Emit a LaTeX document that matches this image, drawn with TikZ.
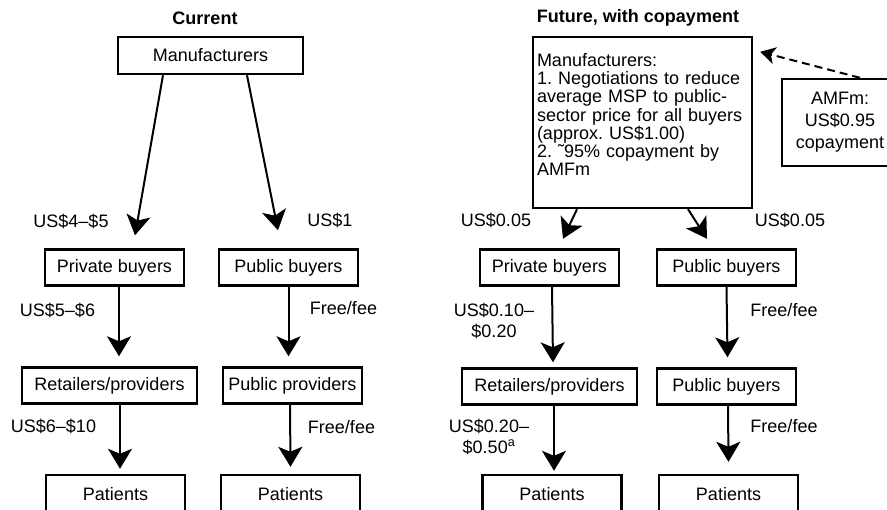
\documentclass[tikz,border=0pt]{standalone}
\usepackage{fontspec}
\setmainfont{Liberation Sans}
\usetikzlibrary{arrows.meta,positioning}
\frenchspacing

\begin{document}
\begin{tikzpicture}[%
    x=1pt, y=-1pt,            % pixel-like units, top-down
    >={Stealth[length=20pt,width=24pt,inset=5pt]},
    node distance=10pt and 10pt,
    font=\fontsize{18}{21}\selectfont,
    ]
% -------------------------------------------------
% Box and line styles
\tikzset{
  base/.style={draw, line width=2.4pt, on grid, align=center, inner sep=3pt},
  box/.style={base, rectangle, minimum width=139pt, minimum height=36pt},
  widebox/.style={box, minimum width=175pt},
  patbox/.style={box, minimum height=38pt},
  norm/.style={->, draw, black, line width=2pt},
  copay/.style={draw, black, line width=2pt, dash pattern=on 8pt off 5pt,
    -{Stealth[length=15pt,width=17pt,inset=4pt]}},
  txt/.style={draw=none, fill=none, align=center, inner sep=0pt},
  ttl/.style={txt, font=\fontsize{18}{21}\selectfont\bfseries}
  }
\useasboundingbox (0,0) rectangle (887,510);
% -------------------------------------------------
% Current
\node [ttl] (cur) at (205,18) {Current};
\node [box, minimum width=185pt, minimum height=37pt] (mL) at (210.5,55.5) {Manufacturers};
\node [box, below left=212pt and 96pt of mL] (privL) {Private buyers};
\node [box, right=174pt of privL] (pubL) {Public buyers};
\node [widebox, below left=118pt and 5pt of privL] (retL) {Retailers/providers};
\node [box, right=183pt of retL] (pprovL) {Public providers};
\node [patbox, below right=108.5pt and 6pt of retL] (patL1) {Patients};
\node [patbox, right=175pt of patL1] (patL2) {Patients};

\draw [norm] ([xshift=-47.5pt]mL.south) -- ([xshift=20.5pt,yshift=13pt]privL.north);
\draw [norm] ([xshift=36.5pt]mL.south) -- ([xshift=-10.5pt,yshift=18pt]pubL.north);
\draw [norm] ([xshift=4.5pt]privL.south) -- ([xshift=9.5pt,yshift=10pt]retL.north);
\draw [norm] (pubL.south) -- ([xshift=-4pt,yshift=10pt]pprovL.north);
\draw [norm] ([xshift=10.5pt]retL.south) -- ([xshift=4.5pt,yshift=5pt]patL1.north);
\draw [norm] ([xshift=-2.5pt]pprovL.south) -- ([yshift=7pt]patL2.north);

\node [txt] (pL1) at (71,221) {US\$4--\$5};
\node [txt] (pL2) at (330,220) {US\$1};
\node [txt] (pL3) at (57.5,310) {US\$5--\$6};
\node [txt] (fL1) at (343.5,308) {Free/fee};
\node [txt] (pL4) at (53.5,426) {US\$6--\$10};
\node [txt] (fL2) at (341.5,427) {Free/fee};
% -------------------------------------------------
% Future, with copayment
\node [ttl] (fut) at (638,18) {Future, with copayment};
\node [base, rectangle, text width=211pt, align=left, inner xsep=4pt,
  minimum height=171pt, font=\fontsize{18}{18.3}\selectfont] (mR) at (642.5,122.5)
  {Manufacturers:\\1. Negotiations to reduce\\average MSP to public-\\sector price for all buyers\\(approx. US\$1.00)\\2. \symbol{"02DC}95\% copayment by\\AMFm\rule[-16pt]{0pt}{16pt}};
\node [box, minimum width=116pt, minimum height=87pt, right=197.5pt of mR] (amf)
  {AMFm:\\[1pt]US\$0.95\\[1pt]copayment};
\node [box, below left=145pt and 93pt of mR] (privR) {Private buyers};
\node [box, right=177pt of privR] (pubR) {Public buyers};
\node [widebox, below=119pt of privR] (retR) {Retailers/providers};
\node [box, right=177pt of retR] (pubR2) {Public buyers};
\node [patbox, below right=107.5pt and 2.5pt of retR] (patR1) {Patients};
\node [patbox, right=176.5pt of patR1] (patR2) {Patients};

\draw [copay] ([xshift=20pt]amf.north) -- ([xshift=7pt,yshift=-16pt]mR.north east);
\draw [norm] ([xshift=-65.5pt]mR.south) -- ([xshift=13.5pt,yshift=9.5pt]privR.north);
\draw [norm] ([xshift=45.5pt]mR.south) -- ([xshift=-19.5pt,yshift=9.5pt]pubR.north);
\draw [norm] ([xshift=2.5pt]privR.south) -- ([xshift=3.5pt,yshift=5pt]retR.north);
\draw [norm] (pubR.south) -- ([xshift=1pt,yshift=10pt]pubR2.north);
\draw [norm] ([xshift=4.5pt]retR.south) -- ([xshift=2pt,yshift=3pt]patR1.north);
\draw [norm] ([xshift=1.5pt]pubR2.south) -- ([yshift=12pt]patR2.north);

\node [txt] (pR1) at (496,220) {US\$0.05};
\node [txt] (pR2) at (790,220) {US\$0.05};
\node [txt] (pR3) at (494,320.5) {US\$0.10--\\\$0.20};
\node [txt] (fR1) at (784,310) {Free/fee};
\node [txt] (pR4) at (489,436.5) {US\$0.20--\\\$0.50\textsuperscript{a}};
\node [txt] (fR2) at (784,426) {Free/fee};
\end{tikzpicture}
\end{document}
